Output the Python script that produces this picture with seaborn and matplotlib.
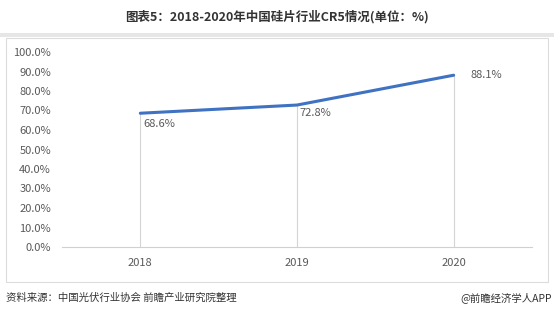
import matplotlib
matplotlib.use("Agg")
import matplotlib.pyplot as plt
import seaborn as sns
import pandas as pd
from matplotlib.patches import Rectangle
from matplotlib.ticker import FuncFormatter

years = ["2018", "2019", "2020"]
cr5 = [68.6, 72.8, 88.1]
labels = ["68.6%", "72.8%", "88.1%"]
yticks = [0, 10, 20, 30, 40, 50, 60, 70, 80, 90, 100]

sns.set_theme(style="white")
plt.rcParams['font.family'] = ['Noto Sans CJK SC', 'DejaVu Sans']

df = pd.DataFrame({"year": years, "cr5": cr5})

fig = plt.figure(figsize=(5.54, 3.15), dpi=100)
fig.patch.set_facecolor("white")

# outer box and grey band
fig.add_artist(Rectangle((0.0, 1 - 37 / 315), 1.0, 4 / 315, transform=fig.transFigure,
                         facecolor="#e6e6e6", edgecolor="none"))
fig.add_artist(Rectangle((6 / 554, 1 - 282 / 315), 542 / 554, 244 / 315, transform=fig.transFigure,
                         facecolor="none", edgecolor="#dcdcdc", linewidth=0.8))

ax = fig.add_axes([62 / 554, 1 - 247 / 315, 470 / 554, 195 / 315])
ax.set_facecolor("none")

xpos = list(range(len(years)))
# drop lines
for x, v in zip(xpos, cr5):
    ax.plot([x, x], [0, v], color="#d4d4d4", linewidth=0.8, zorder=1)

sns.lineplot(data=df, x="year", y="cr5", ax=ax, color="#3f72c2", linewidth=2.2,
             sort=False, zorder=3)

offsets = [(2, -4, "left", "top"), (2, -2, "left", "top"), (12, 0, "left", "center")]
for x, v, lab, (dx, dy, ha, va) in zip(xpos, cr5, labels, offsets):
    ax.annotate(lab, (x, v), xytext=(dx, dy), textcoords="offset points",
                ha=ha, va=va, fontsize=8, color="#595959")

ax.set_xlim(-0.5, 2.5)
ax.set_ylim(0, 100)
ax.set_yticks(yticks)
ax.yaxis.set_major_formatter(FuncFormatter(lambda v, p: f"{v:.1f}%"))
ax.set_xlabel("")
ax.set_ylabel("")
for s in ["top", "right", "left"]:
    ax.spines[s].set_visible(False)
ax.spines["bottom"].set_color("#d0d0d0")
ax.spines["bottom"].set_linewidth(0.8)
ax.tick_params(axis="y", length=0, labelsize=8, labelcolor="#595959", pad=8)
ax.tick_params(axis="x", length=0, labelsize=8, labelcolor="#595959", pad=8)
ax.grid(False)

fig.text(277 / 554, 1 - 17 / 315, "图表5：2018-2020年中国硅片行业CR5情况(单位：%)",
         ha="center", va="center", fontsize=9, fontweight="bold", color="#333333")
fig.text(6 / 554, 1 - 298 / 315, "资料来源：中国光伏行业协会 前瞻产业研究院整理",
         ha="left", va="center", fontsize=7.5, color="#333333")
fig.text(552 / 554, 1 - 298 / 315, "@前瞻经济学人APP",
         ha="right", va="center", fontsize=7.5, color="#333333")

fig.savefig("out.png", dpi=100)
